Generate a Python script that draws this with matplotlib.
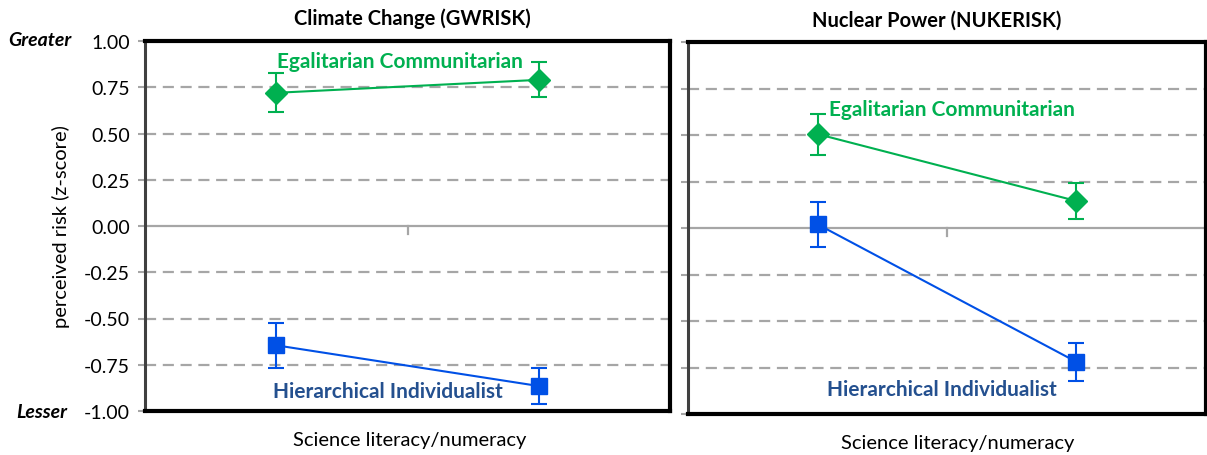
import numpy as np
import matplotlib.pyplot as plt

plt.rcParams['font.family'] = ['Lato', 'DejaVu Sans']

# data
panels = ['Climate Change (GWRISK)', 'Nuclear Power (NUKERISK)']
ec_vals = [[0.72, 0.79], [0.505, 0.145]]
ec_err = [[0.105, 0.095], [0.11, 0.095]]
hi_vals = [[-0.645, -0.865], [0.02, -0.72]]
hi_err = [[0.12, 0.095], [0.12, 0.10]]
yticks = [1.0, 0.75, 0.5, 0.25, 0.0, -0.25, -0.5, -0.75, -1.0]

green = '#00B050'
blue = '#0050E6'
dark_blue = '#24508F'
grid_c = '#A6A6A6'

W, H = 1207, 456
fig = plt.figure(figsize=(W / 100, H / 100), dpi=100)


def px_axes(x0, y0, x1, y1):
    return fig.add_axes([x0 / W, 1 - y1 / H, (x1 - x0) / W, (y1 - y0) / H])


boxes = [(145, 42, 670, 412), (688, 43, 1206, 415)]
ec_label_pos = [(0.486, 0.946), (0.51, 0.82)]
hi_label_pos = [(0.463, 0.054), (0.49, 0.067)]
title_x = [0.51, 0.48]
xlabel_x = [0.505, 0.52]

for k, box in enumerate(boxes):
    ax = px_axes(*box)
    x = np.array([0.5, 1.5])
    ax.set_xlim(0, 2)
    ax.set_ylim(-1, 1)

    # dashed grid, solid zero line
    for yv in yticks:
        if yv in (1.0, -1.0):
            continue
        if yv == 0:
            ax.axhline(0, color=grid_c, lw=1.6, zorder=1)
        else:
            ax.axhline(yv, color=grid_c, lw=1.6, ls=(0, (5, 3)), zorder=1)
    # middle category tick on zero line
    ax.plot([1, 1], [0, -0.045], color=grid_c, lw=1.6, zorder=1)

    ax.errorbar(x, ec_vals[k], yerr=ec_err[k], color=green, marker='D',
                markersize=11, lw=1.5, capsize=6, capthick=1.5, zorder=3)
    ax.errorbar(x, hi_vals[k], yerr=hi_err[k], color=blue, marker='s',
                markersize=11.5, lw=1.5, capsize=6, capthick=1.5, zorder=3)

    ax.text(*ec_label_pos[k], 'Egalitarian Communitarian', transform=ax.transAxes,
            color=green, fontsize=15, fontweight='bold', ha='center', va='center')
    ax.text(*hi_label_pos[k], 'Hierarchical Individualist', transform=ax.transAxes,
            color=dark_blue, fontsize=15, fontweight='bold', ha='center', va='center')

    ax.set_xticks([])
    ax.set_yticks(yticks)
    ax.tick_params(axis='y', direction='out', length=5, width=1.5, color=grid_c,
                   labelsize=14, pad=6)
    if k == 0:
        ax.set_yticklabels(['%.2f' % v for v in yticks])
        ax.set_ylabel('perceived risk (z-score)', fontsize=14.5, labelpad=10)
    else:
        ax.set_yticklabels([])

    ax.spines['left'].set_linewidth(2.2)
    ax.spines['left'].set_color('#404040')
    for s in ['top', 'bottom', 'right']:
        ax.spines[s].set_linewidth(3)
        ax.spines[s].set_color('black')

    ax.set_title(panels[k], fontsize=14.5, fontweight='bold', pad=12, x=title_x[k])
    ax.set_xlabel('Science literacy/numeracy', fontsize=14.5, labelpad=13)
    ax.xaxis.set_label_coords(xlabel_x[k], -0.055, transform=ax.transAxes)
    ax.xaxis.label.set_va('top')

fig.text(40 / W, 1 - 40 / H, 'Greater', fontsize=14, fontweight='bold',
         fontstyle='italic', ha='center', va='center')
fig.text(42 / W, 1 - 413 / H, 'Lesser', fontsize=14, fontweight='bold',
         fontstyle='italic', ha='center', va='center')

fig.savefig('out.png', dpi=100)
